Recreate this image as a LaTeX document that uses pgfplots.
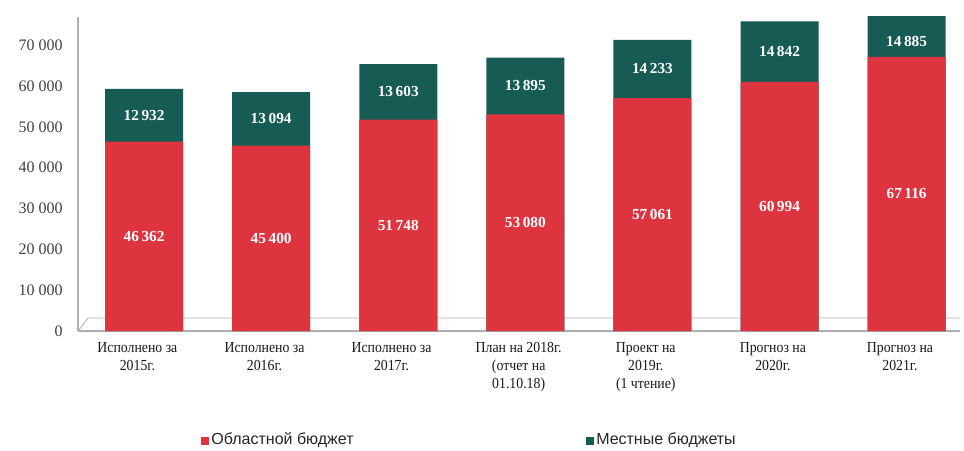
\documentclass[border=0pt]{standalone}
\usepackage{fontspec}
\setmainfont{Liberation Serif}
\newfontfamily\legfont{Liberation Sans}
\newfontfamily\condfont[FakeStretch=0.9]{Liberation Serif}
\usepackage{pgfplots}
\pgfplotsset{compat=1.18}
\definecolor{rbar}{RGB}{222,52,64}
\definecolor{tbar}{RGB}{22,92,85}
\definecolor{axgray}{RGB}{175,175,175}
\begin{document}
\begin{tikzpicture}
\path[use as bounding box] (-58.5pt,-89.25pt) rectangle (664.5pt,248.25pt);
\begin{axis}[
  at={(0,0)}, anchor=south west,
  scale only axis, width=661.5pt, height=235.5pt,
  xmin=-0.52, xmax=6.42, ymin=0, ymax=76900,
  axis lines*=left,
  axis line style={axgray, line width=0.8pt},
  xtick={0,...,6},
  xticklabels={{Исполнено за\\2015г.},{Исполнено за\\2016г.},{Исполнено за\\2017г.},{План на 2018г.\\(отчет на\\01.10.18)},{Проект на\\2019г.\\(1 чтение)},{Прогноз на\\2020г.},{Прогноз на\\2021г.}},
  xticklabel style={align=center, font=\condfont\fontsize{11.5}{13.5}\selectfont, xshift=-5pt, yshift=-5pt, text=black!90},
  ytick={0,10000,...,70000},
  scaled y ticks=false,
  yticklabel style={font=\fontsize{12}{14}\selectfont, text=black!75, xshift=-8pt},
  /pgf/number format/1000 sep={\ },
  /pgf/number format/assume math mode=true,
  major tick length=0pt,
  tick style={draw=none},
  legend style={draw=none, fill=none, at={(0.444,-0.347)}, anchor=center,
    font=\legfont\fontsize{12}{14}\selectfont, text=black!85,
    /tikz/every even column/.append style={column sep=172pt}},
  legend columns=2,
  legend cell align=left,
]
\addlegendimage{fill=rbar, draw=none, legend image code/.code={\fill[rbar] (0pt,-3.5pt) rectangle (6pt,2.5pt);}}
\addlegendentry{Областной бюджет}
\addlegendimage{fill=tbar, draw=none, legend image code/.code={\fill[tbar] (0pt,-3.5pt) rectangle (6pt,2.5pt);}}
\addlegendentry{Местные бюджеты}

\draw[axgray, line width=0.6pt] (axis cs:-0.52,0) -- (axis cs:-0.44,3200) -- (axis cs:6.42,3200);

% teal = total (regional + local), drawn first; red overlays
\addplot[ybar, bar width=58.5pt, bar shift=0pt, fill=tbar, draw=none, forget plot]
  coordinates {(0,59294) (1,58494) (2,65351) (3,66975) (4,71294) (5,75836) (6,82001)};
\addplot[ybar, bar width=58.5pt, bar shift=0pt, fill=rbar, draw=none, forget plot]
  coordinates {(0,46362) (1,45400) (2,51748) (3,53080) (4,57061) (5,60994) (6,67116)};

% labels
\addplot[only marks, mark=*, mark size=0pt, mark options={draw=none, fill=none},
  nodes near coords, point meta=explicit symbolic,
  nodes near coords style={anchor=center, text=white, font=\bfseries\fontsize{11.5}{13}\selectfont},
  forget plot]
  coordinates {(0,23181)[46\,362] (1,22700)[45\,400] (2,25874)[51\,748] (3,26540)[53\,080]
               (4,28530)[57\,061] (5,30497)[60\,994] (6,33558)[67\,116]
               (0,52828)[12\,932] (1,51947)[13\,094] (2,58550)[13\,603] (3,60028)[13\,895]
               (4,64178)[14\,233] (5,68415)[14\,842] (6,71000)[14\,885]};
\end{axis}
\end{tikzpicture}
\end{document}
